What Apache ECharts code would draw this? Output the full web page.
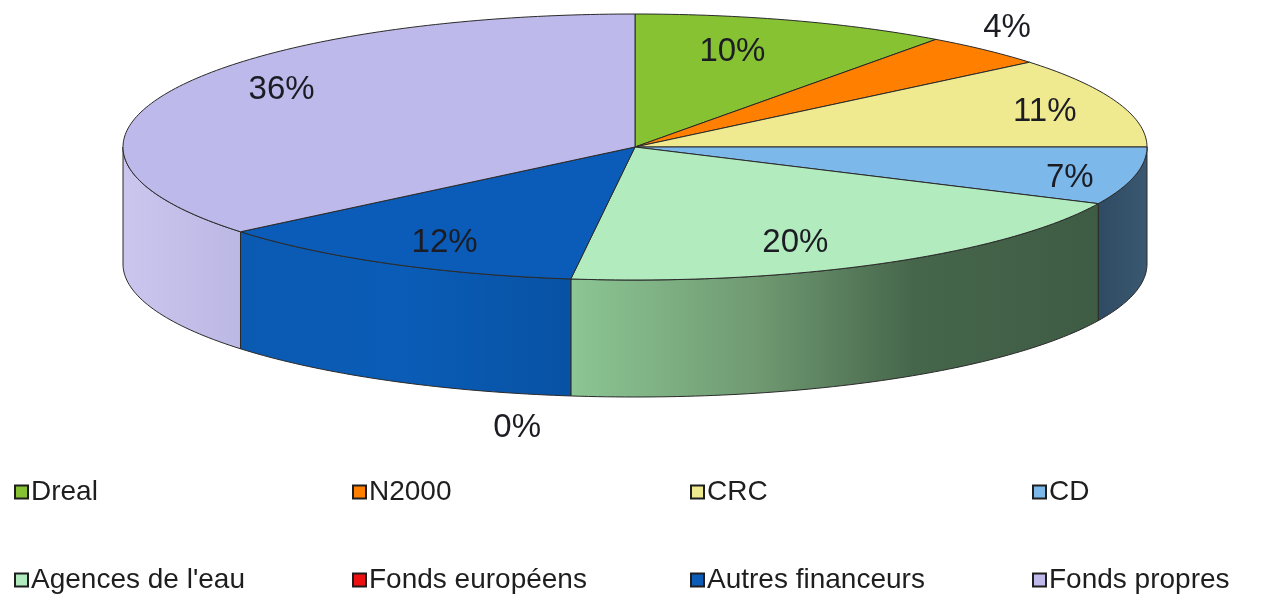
<!DOCTYPE html>
<html>
<head>
<meta charset="utf-8">
<script src="https://cdn.jsdelivr.net/npm/echarts@6/dist/echarts.min.js"></script>
<style>
  html, body { margin: 0; padding: 0; background: #ffffff; }
  #chart { width: 1261px; height: 601px; }
</style>
</head>
<body>
<div id="chart"></div>
<script>
// Funding sources (share of total, %)
const categories = ['Dreal', 'N2000', 'CRC', 'CD', "Agences de l'eau", 'Fonds européens', 'Autres financeurs', 'Fonds propres'];
const shares = [10, 4, 11, 7, 20, 0, 12, 36];

// Styling: top-face colours, side-wall gradients, label nudges (px)
const topColors = ['#86c232', '#ff8000', '#efe98f', '#7cb9ea', '#b2ebbd', '#ee1111', '#0a5cb8', '#bdb9ea'];
const wallStops = [
  [[0, '#5f8a24'], [1, '#5f8a24']],
  [[0, '#b35a00'], [1, '#b35a00']],
  [[0, '#a8a464'], [1, '#a8a464']],
  [[0, '#2f4b63'], [1, '#3b5872']],
  [[0, '#8cc694'], [0.35, '#709a72'], [0.65, '#46664b'], [1, '#3e5c44']],
  [[0, '#aa0000'], [1, '#aa0000']],
  [[0, '#0b5ab2'], [0.5, '#0a5cb6'], [1, '#0852a4']],
  [[0, '#cac6ee'], [1, '#bcb8e4']]
];
const labelNudge = [[-26, 4], [-31, -8], [34, 0], [45, 8], [-32, 5], [-44, 12], [2, 5], [8, -13]];

// Pie geometry (tilted disc)
const CX = 635, CY = 147, RX = 512, RY = 133, DEPTH = 117;
const total = shares.reduce((a, b) => a + b, 0);

function pt(theta, k, dy) {
  return [CX + RX * k * Math.sin(theta), CY - RY * k * Math.cos(theta) + dy];
}
function arc(a, b, k, dy) {
  const pts = [];
  const n = Math.max(2, Math.ceil((b - a) / (Math.PI / 180)));
  for (let j = 0; j <= n; j++) pts.push(pt(a + (b - a) * j / n, k, dy));
  return pts;
}

function renderSlice(params, api) {
  const i = params.seriesIndex;
  const v = api.value(0);
  let before = 0;
  for (let j = 0; j < i; j++) before += shares[j];
  const a0 = before / total * 2 * Math.PI;
  const a1 = (before + v) / total * 2 * Math.PI;
  const children = [];

  // visible front wall
  const w0 = Math.max(a0, Math.PI / 2), w1 = Math.min(a1, 3 * Math.PI / 2);
  if (w1 > w0) {
    const pts = arc(w0, w1, 1, 0).concat(arc(w0, w1, 1, DEPTH).reverse());
    children.push({
      type: 'polygon',
      shape: { points: pts },
      style: {
        fill: new echarts.graphic.LinearGradient(0, 0, 1, 0,
          wallStops[i].map(s => ({ offset: s[0], color: s[1] }))),
        stroke: '#2a2a2a', lineWidth: 1
      }
    });
  }

  // top face
  if (a1 > a0) {
    children.push({
      type: 'polygon',
      shape: { points: [[CX, CY]].concat(arc(a0, a1, 1, 0)) },
      style: { fill: topColors[i], stroke: '#2a2a2a', lineWidth: 1 }
    });
  }

  // percentage label
  const mid = (a0 + a1) / 2;
  const outside = v < 5;
  const k = outside ? 1.15 : 0.78;
  const p = pt(mid, k, outside && Math.cos(mid) < 0 ? DEPTH : 0);
  children.push({
    type: 'text',
    x: p[0] + labelNudge[i][0],
    y: p[1] + labelNudge[i][1],
    style: {
      text: Math.round(v / total * 100) + '%',
      fill: '#1c1c24',
      font: '33px "Liberation Sans", Arial, sans-serif',
      align: 'center',
      verticalAlign: 'middle'
    }
  });

  return { type: 'group', children: children };
}

const series = categories.map((name, i) => ({
  type: 'custom',
  name: name,
  coordinateSystem: 'none',
  itemStyle: { color: topColors[i] },
  renderItem: renderSlice,
  data: [{ name: name, value: shares[i] }],
  silent: true
}));

const columnsLeft = [14, 352, 690, 1032];
const legends = columnsLeft.map((left, c) => ({
  orient: 'vertical',
  left: left,
  top: 477,
  padding: 0,
  itemGap: 58,
  itemWidth: 13,
  itemHeight: 13,
  icon: 'rect',
  selectedMode: false,
  itemStyle: { borderColor: '#1e1e1e', borderWidth: 2 },
  textStyle: {
    fontFamily: '"Liberation Sans", Arial, sans-serif',
    fontSize: 28,
    color: '#1e1e1e',
    lineHeight: 30,
    padding: [0, 0, 0, -2]
  },
  data: [categories[c], categories[c + 4]]
}));

const chart = echarts.init(document.getElementById('chart'), null, { renderer: 'canvas' });
chart.setOption({
  backgroundColor: '#ffffff',
  animation: false,
  legend: legends,
  series: series
});
</script>
</body>
</html>
